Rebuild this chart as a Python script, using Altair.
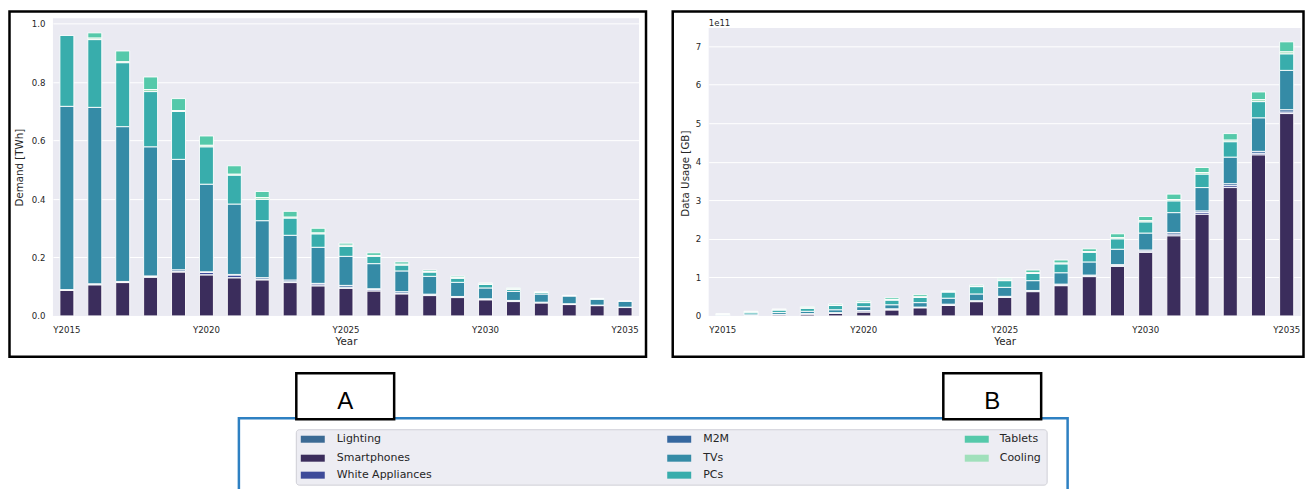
import json
import altair as alt
import pandas as pd

# ---------------- data ----------------
years = ["Y2015", "Y2016", "Y2017", "Y2018", "Y2019", "Y2020", "Y2021",
         "Y2022", "Y2023", "Y2024", "Y2025", "Y2026", "Y2027", "Y2028",
         "Y2029", "Y2030", "Y2031", "Y2032", "Y2033", "Y2034", "Y2035"]
label_years = ["Y2015", "Y2020", "Y2025", "Y2030", "Y2035"]

categories = ["Lighting", "Smartphones", "White Appliances", "M2M",
              "TVs", "PCs", "Tablets", "Cooling"]
colors = ["#3b6a94", "#3b2d5c", "#3d4a99", "#35679f",
          "#358ba6", "#38adac", "#55c9aa", "#a0e0bb"]
# bottom -> top order in each bar
stack_rank = ["Smartphones", "Lighting", "White Appliances", "M2M",
              "TVs", "PCs", "Cooling", "Tablets"]

# Panel A: Demand [TWh]
demand_lighting = [0.001, 0.001, 0.001, 0.001, 0.001, 0.001, 0.001, 0.001, 0.001, 0.001, 0.001,
                   0.001, 0.001, 0.001, 0.001, 0.001, 0.001, 0.001, 0.001, 0.0005, 0.0005]
demand_smartphones = [0.087, 0.106, 0.114, 0.132, 0.150, 0.140, 0.130, 0.123, 0.114, 0.1025, 0.0945,
                      0.085, 0.075, 0.0695, 0.0626, 0.0547, 0.049, 0.044, 0.0387, 0.035, 0.0285]
demand_white = [0.001, 0.001, 0.001, 0.002, 0.002, 0.008, 0.009, 0.002, 0.002, 0.006, 0.003,
                0.005, 0.002, 0.002, 0.002, 0.002, 0.002, 0.001, 0.001, 0.001, 0.0005]
demand_m2m = [0.001, 0.002, 0.002, 0.002, 0.005, 0.002, 0.002, 0.005, 0.006, 0.002, 0.006,
              0.002, 0.005, 0.002, 0.001, 0.001, 0.001, 0.001, 0.001, 0.0005, 0.0005]
demand_tvs = [0.6275, 0.604, 0.530, 0.442, 0.378, 0.300, 0.241, 0.195, 0.153, 0.1235, 0.0995,
              0.086, 0.071, 0.061, 0.0484, 0.037, 0.031, 0.028, 0.0263, 0.020, 0.020]
demand_pcs = [0.2425, 0.232, 0.219, 0.189, 0.164, 0.128, 0.099, 0.073, 0.059, 0.046, 0.034,
              0.025, 0.020, 0.0145, 0.014, 0.012, 0.007, 0.005, 0.002, 0.002, 0.001]
demand_cooling = [0.0, 0.005, 0.003, 0.007, 0.003, 0.005, 0.003, 0.006, 0.003, 0.003, 0.004,
                  0.003, 0.003, 0.002, 0.002, 0.002, 0.002, 0.001, 0.0005, 0.0, 0.0]
demand_tablets = [0.0, 0.018, 0.037, 0.043, 0.041, 0.032, 0.029, 0.021, 0.020, 0.016, 0.007,
                  0.009, 0.008, 0.005, 0.005, 0.003, 0.003, 0.002, 0.0, 0.001, 0.0]

# Panel B: Data Usage [GB], in units of 1e11
usage_lighting = [0.0] * 21
usage_smartphones = [0.005, 0.01, 0.03, 0.05, 0.07, 0.10, 0.155, 0.21, 0.27, 0.37, 0.483,
                     0.63, 0.785, 1.02, 1.285, 1.65, 2.08, 2.64, 3.33, 4.18, 5.25]
usage_white = [0.0, 0.0, 0.005, 0.005, 0.01, 0.03, 0.02, 0.01, 0.02, 0.01, 0.01,
               0.01, 0.02, 0.02, 0.02, 0.03, 0.045, 0.045, 0.05, 0.04, 0.04]
usage_m2m = [0.0, 0.0, 0.005, 0.005, 0.005, 0.01, 0.01, 0.01, 0.015, 0.015, 0.015,
             0.02, 0.02, 0.02, 0.025, 0.03, 0.04, 0.04, 0.05, 0.05, 0.06]
usage_tvs = [0.02, 0.04, 0.05, 0.06, 0.075, 0.10, 0.105, 0.115, 0.155, 0.175, 0.234,
             0.255, 0.295, 0.34, 0.40, 0.44, 0.515, 0.605, 0.69, 0.87, 1.02]
usage_pcs = [0.02, 0.05, 0.065, 0.08, 0.11, 0.105, 0.12, 0.135, 0.16, 0.19, 0.173,
             0.185, 0.23, 0.25, 0.27, 0.29, 0.305, 0.35, 0.40, 0.42, 0.43]
usage_cooling = [0.002, 0.005, 0.005, 0.01, 0.01, 0.01, 0.015, 0.015, 0.01, 0.01, 0.02,
                 0.02, 0.02, 0.02, 0.03, 0.03, 0.035, 0.04, 0.04, 0.05, 0.05]
usage_tablets = [0.008, 0.015, 0.02, 0.03, 0.03, 0.035, 0.045, 0.055, 0.03, 0.03, 0.04,
                 0.07, 0.08, 0.07, 0.10, 0.11, 0.14, 0.13, 0.17, 0.20, 0.26]

demand = {"Lighting": demand_lighting, "Smartphones": demand_smartphones,
          "White Appliances": demand_white, "M2M": demand_m2m, "TVs": demand_tvs,
          "PCs": demand_pcs, "Tablets": demand_tablets, "Cooling": demand_cooling}
usage = {"Lighting": usage_lighting, "Smartphones": usage_smartphones,
         "White Appliances": usage_white, "M2M": usage_m2m, "TVs": usage_tvs,
         "PCs": usage_pcs, "Tablets": usage_tablets, "Cooling": usage_cooling}


def frame(series):
    rows = []
    for cat, vals in series.items():
        for yr, v in zip(years, vals):
            if v > 0:
                rows.append({"year": yr, "category": cat, "value": v,
                             "rank": stack_rank.index(cat)})
    return pd.DataFrame(rows)


TXT = "#262626"
BG = "#EAEAF2"
TICK_FS = 8.6
TITLE_FS = 10.3
one = pd.DataFrame({"k": [0]})

label_expr = ("indexof(" + json.dumps(label_years) +
              ", datum.label) >= 0 ? datum.label : ''")

W_A, W_B, H = 587, 593, 298


def bars_for(df, ymax, yticks, yfmt, ytitle, ytitle_pad, extra_title=None):
    x_axis = alt.Axis(title="Year", labelExpr=label_expr, labelAngle=0, ticks=False,
                      domain=False, gridColor="white", gridWidth=1, labelFontSize=TICK_FS,
                      labelColor=TXT, labelPadding=9.5, titleFontSize=TITLE_FS,
                      titleFontWeight="normal", titleColor=TXT, titlePadding=3,
                      labelOverlap=False)
    yargs = dict(title=ytitle, values=yticks, format=yfmt, ticks=False, domain=False,
                 gridColor="white", gridWidth=1, labelFontSize=TICK_FS, labelColor=TXT,
                 labelPadding=8, titleFontSize=TITLE_FS, titleFontWeight="normal",
                 titleColor=TXT, titlePadding=ytitle_pad)
    if extra_title:
        yargs.update(extra_title)
    return alt.Chart(df).mark_bar(stroke="white", strokeWidth=0.9).encode(
        x=alt.X("year:N", sort=years,
                scale=alt.Scale(domain=years, paddingInner=0.5, paddingOuter=0.25),
                axis=x_axis),
        y=alt.Y("value:Q", stack="zero",
                scale=alt.Scale(domain=[0, ymax], nice=False, zero=True),
                axis=alt.Axis(**yargs)),
        color=alt.Color("category:N", scale=alt.Scale(domain=categories, range=colors),
                        legend=None),
        order=alt.Order("rank:Q", sort="ascending"),
    )


def border(x, x2, y, y2):
    return alt.Chart(one).mark_rect(fill="transparent", stroke="black",
                                    strokeWidth=2.5).encode(
        x=alt.value(x), x2=alt.value(x2), y=alt.value(y), y2=alt.value(y2))


# Panel A
barsA = bars_for(frame(demand), 1.0186, [0, 0.2, 0.4, 0.6, 0.8, 1.0], ".1f",
                 "Demand [TWh]", 7)
panelA = alt.layer(barsA, border(-43.5, W_A + 7, -7, H + 41)).properties(
    width=W_A, height=H, view=alt.ViewBackground(fill=BG, strokeWidth=0))

# Panel B (its plot area starts 9.75px lower: the top strip is blanked out)
barsB = bars_for(frame(usage), 7.719, [0, 1, 2, 3, 4, 5, 6, 7], "d",
                 "Data Usage [GB]", 5, extra_title={"titleX": -18, "titleY": 155})
top_strip = alt.Chart(one).mark_rect(fill="white").encode(
    x=alt.value(-0.5), x2=alt.value(W_B + 0.5), y=alt.value(-0.5), y2=alt.value(9.75))
offset_text = alt.Chart(one).mark_text(text="1e11", align="left", baseline="middle",
                                       fontSize=TICK_FS, color=TXT).encode(
    x=alt.value(0), y=alt.value(4.5))
panelB = alt.layer(top_strip, barsB, border(-36, W_B + 2.75, -7, H + 41), offset_text).properties(
    width=W_B, height=H, view=alt.ViewBackground(fill=BG, strokeWidth=0))

# ---------------- A/B labels and legend row ----------------
# coordinates are relative to panel A's plot origin (x) and the row top (y)
OX = 52.75
marks = []
marks.append(alt.Chart(one).mark_rect(fill="transparent", stroke="#2e80c2", strokeWidth=2.5)
             .encode(x=alt.value(239 - OX), x2=alt.value(1069 - OX),
                     y=alt.value(47), y2=alt.value(140)))
marks.append(alt.Chart(one).mark_rect(fill="#EDEDF3", stroke="#CFCFD6", strokeWidth=1,
                                      cornerRadius=3)
             .encode(x=alt.value(296.5 - OX), x2=alt.value(1048.5 - OX),
                     y=alt.value(58.5), y2=alt.value(114)))
for lbl, x0 in (("A", 296.5), ("B", 944.5)):
    marks.append(alt.Chart(one).mark_rect(fill="white", stroke="black", strokeWidth=2.5)
                 .encode(x=alt.value(x0 - OX), x2=alt.value(x0 + 98 - OX),
                         y=alt.value(2), y2=alt.value(48)))
    marks.append(alt.Chart(one).mark_text(text=lbl, fontSize=24, color="black",
                                          font="Liberation Sans",
                                          align="center", baseline="middle")
                 .encode(x=alt.value(x0 + 49 - OX), y=alt.value(31)))

col_sw = [301, 668, 966]
col_tx = [337, 704, 1001]
row_y = [68, 87, 104]
for i, (cat, colr) in enumerate(zip(categories, colors)):
    c, r = i // 3, i % 3
    marks.append(alt.Chart(one).mark_rect(fill=colr)
                 .encode(x=alt.value(col_sw[c] - OX), x2=alt.value(col_sw[c] + 24 - OX),
                         y=alt.value(row_y[r] - 3.5), y2=alt.value(row_y[r] + 3.5)))
    marks.append(alt.Chart(one).mark_text(text=cat, fontSize=11, color=TXT,
                                          align="left", baseline="middle")
                 .encode(x=alt.value(col_tx[c] - OX), y=alt.value(row_y[r])))

legend_row = alt.layer(*marks).properties(width=1020, height=110)

chart = alt.vconcat(
    alt.hconcat(panelA, panelB, spacing=22.75),
    legend_row,
    spacing=12.5,
).properties(
    padding={"left": 0, "top": 1, "right": 0, "bottom": 0}
).configure(font="DejaVu Sans").configure_view(strokeWidth=0)

chart.save("out.html", embed_options={"renderer": "svg", "actions": False})
